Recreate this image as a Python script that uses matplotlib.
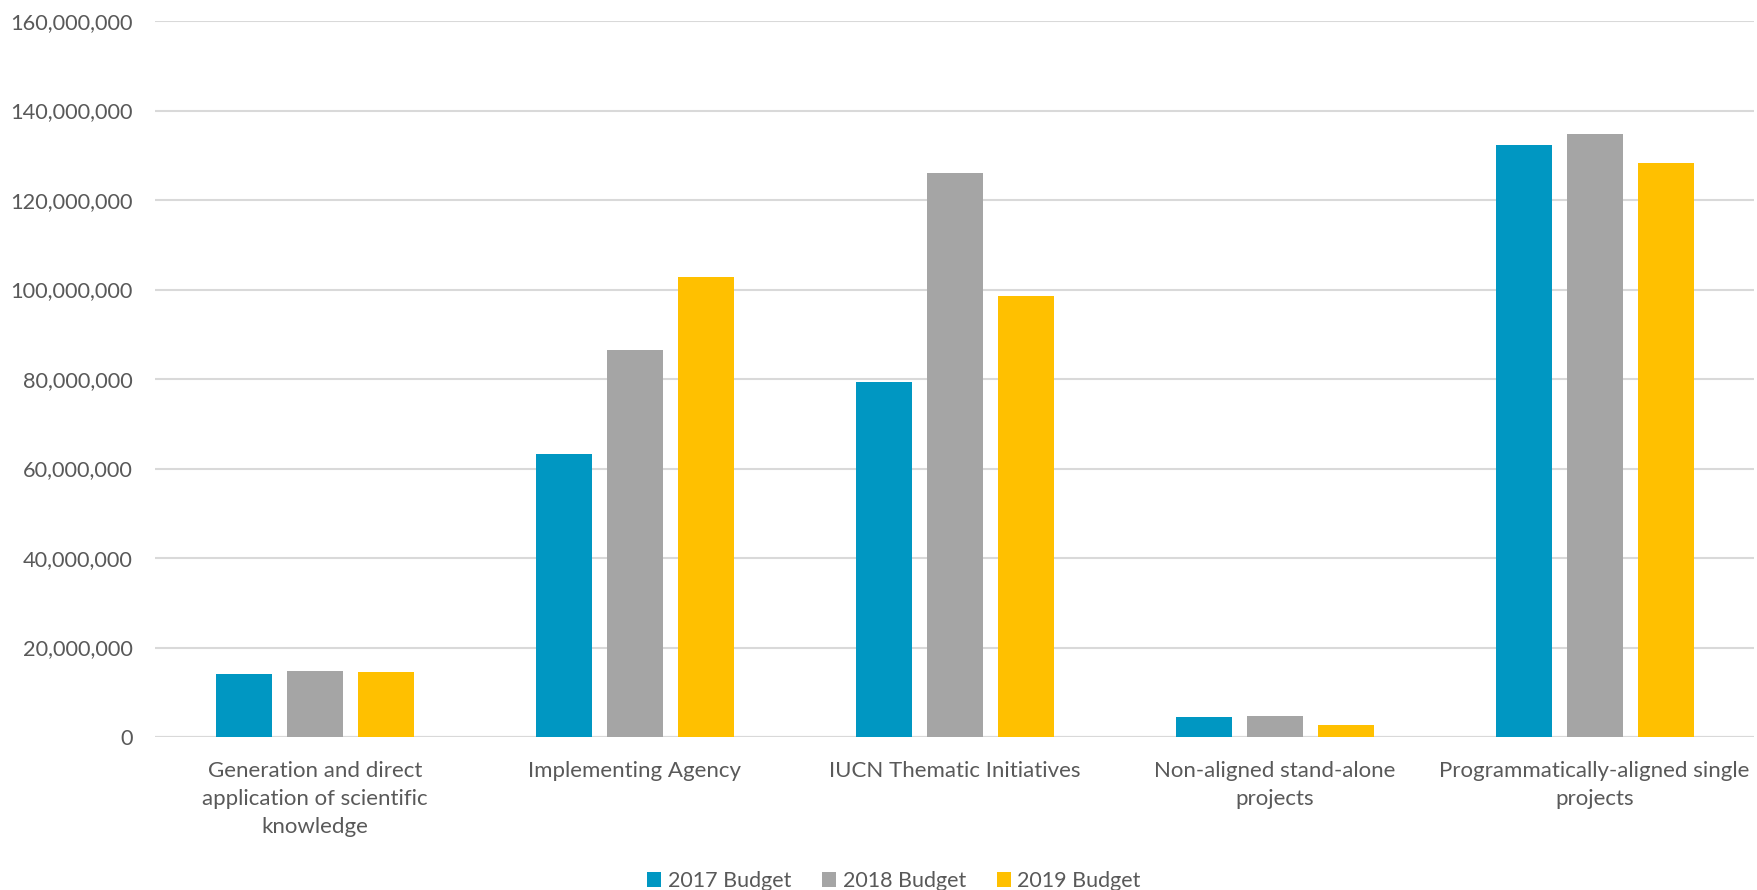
import numpy as np
import matplotlib.pyplot as plt
from matplotlib.ticker import FuncFormatter

# budget per category
categories = ["Generation and direct\napplication of scientific\nknowledge",
              "Implementing Agency",
              "IUCN Thematic Initiatives",
              "Non-aligned stand-alone\nprojects",
              "Programmatically-aligned single\nprojects"]
budget_2017 = [14100000, 63350000, 79300000, 4470000, 132400000]
budget_2018 = [14700000, 86400000, 126000000, 4600000, 134750000]
budget_2019 = [14500000, 102700000, 98600000, 2750000, 128200000]
series_names = ["2017 Budget", "2018 Budget", "2019 Budget"]
colors = ["#0097C2", "#A5A5A5", "#FFC000"]

plt.rcParams['font.family'] = ['Lato', 'DejaVu Sans']
text_col = "#595959"

fig = plt.figure(figsize=(17.58, 8.90), dpi=100)
ax = fig.add_axes([0.0882, 0.1719, 0.9098, 0.8045])

x = np.arange(len(categories))
w = 0.175
step = 0.222
for i, vals in enumerate([budget_2017, budget_2018, budget_2019]):
    ax.bar(x + (i - 1) * step, vals, width=w, color=colors[i], label=series_names[i], zorder=3)

ax.set_xlim(-0.5, len(categories) - 0.5)
ax.set_ylim(0, 160000000)
ax.set_yticks(np.arange(0, 160000001, 20000000))
ax.yaxis.set_major_formatter(FuncFormatter(lambda v, p: "{:,.0f}".format(v)))
ax.grid(axis='y', color='#D9D9D9', linewidth=1.5, zorder=0)
for s in ['top', 'right', 'left', 'bottom']:
    ax.spines[s].set_visible(False)
ax.axhline(0, color='#D9D9D9', linewidth=1.5, zorder=2)

ax.set_xticks(x)
ax.set_xticklabels(categories, linespacing=1.5)
ax.tick_params(axis='x', length=0, labelsize=16, colors=text_col, pad=17.5)
ax.tick_params(axis='y', length=0, labelsize=15.7, colors=text_col, pad=16)

fig.legend(loc='center', bbox_to_anchor=(0.5085, 0.01), ncol=3, frameon=False,
           fontsize=15.5, labelcolor=text_col, handlelength=0.65, handleheight=0.65,
           handletextpad=0.3, columnspacing=1.45)

fig.savefig("out.png", dpi=100)
